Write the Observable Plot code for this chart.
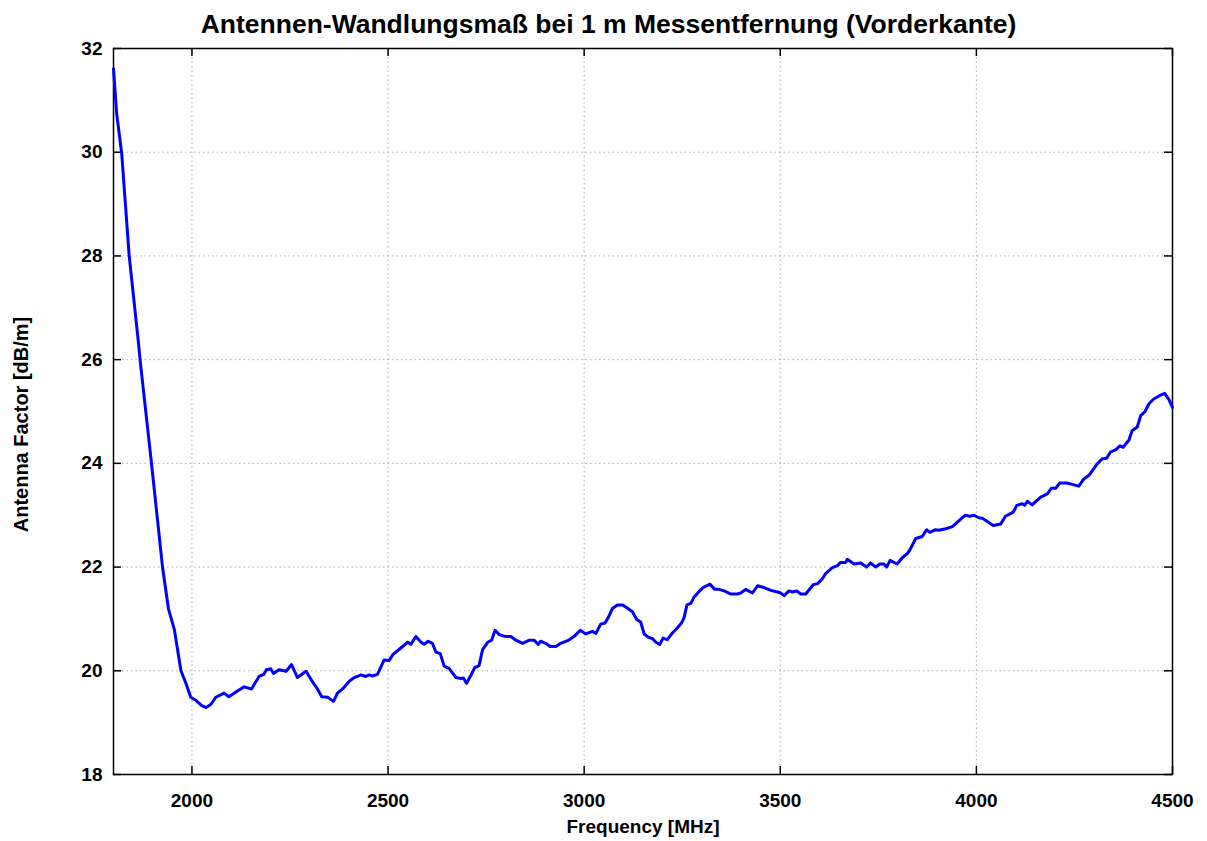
<!DOCTYPE html>
<html>
<head>
<meta charset="utf-8">
<script src="https://cdn.jsdelivr.net/npm/d3@7"></script>
<script src="https://cdn.jsdelivr.net/npm/@observablehq/plot@0.6"></script>
<style>
  body { margin: 0; background: #fff; font-family: "Liberation Sans", Arial, sans-serif; position: relative; }
  #title { position: absolute; left: 0; top: 0; height: 40px; line-height: 48px; text-align: center; font-weight: bold; font-size: 26.5px; color: #000; width: 1207px; padding-left: 10px; box-sizing: border-box; white-space: nowrap; z-index: 2; }
  #chart svg { display: block; }
</style>
</head>
<body>
<div id="title"></div>
<div id="chart"></div>
<script>
const titleText = "Antennen-Wandlungsmaß bei 1 m Messentfernung (Vorderkante)";
const xLabel = "Frequency [MHz]";
const yLabel = "Antenna Factor [dB/m]";
const xTicks = [2000, 2500, 3000, 3500, 4000, 4500];
const yTicks = [18, 20, 22, 24, 26, 28, 30, 32];

const freq = [1800,1808,1821,1840,1863,1868,1897,1925,1940,1955,1972,1985,1997,2010,2025,2036,2048,2061,2082,2094,2116,2133,2152,2171,2183,2190,2201,2208,2222,2240,2254,2269,2291,2308,2320,2331,2346,2361,2371,2384,2401,2414,2431,2443,2452,2460,2473,2490,2503,2512,2528,2550,2558,2571,2584,2592,2602,2613,2622,2633,2643,2656,2673,2686,2692,2700,2711,2721,2732,2741,2754,2764,2773,2783,2800,2813,2826,2843,2860,2872,2883,2889,2902,2913,2928,2940,2958,2974,2990,3004,3021,3030,3042,3053,3061,3072,3085,3098,3110,3123,3134,3144,3153,3163,3174,3183,3193,3201,3212,3225,3238,3248,3255,3262,3272,3280,3293,3304,3321,3333,3344,3357,3374,3391,3399,3412,3429,3442,3460,3476,3493,3501,3510,3522,3531,3542,3552,3565,3584,3595,3607,3616,3633,3646,3654,3667,3671,3688,3705,3720,3730,3743,3754,3764,3771,3780,3798,3811,3824,3832,3845,3862,3873,3881,3896,3904,3922,3939,3955,3972,3983,3994,4006,4015,4028,4043,4062,4074,4094,4103,4117,4123,4130,4142,4164,4181,4191,4202,4213,4230,4247,4261,4274,4287,4308,4321,4332,4342,4355,4366,4374,4389,4397,4410,4419,4430,4440,4452,4468,4480,4491,4500];
const af = [31.61,30.75,29.97,28.0,26.37,25.98,23.99,22.0,21.2,20.8,20.0,19.75,19.49,19.43,19.33,19.29,19.35,19.49,19.57,19.5,19.61,19.69,19.65,19.89,19.93,20.02,20.04,19.95,20.02,19.99,20.12,19.87,19.99,19.78,19.65,19.5,19.49,19.41,19.57,19.65,19.8,19.87,19.92,19.89,19.92,19.9,19.93,20.21,20.2,20.31,20.41,20.55,20.51,20.66,20.55,20.51,20.57,20.53,20.36,20.33,20.09,20.04,19.87,19.85,19.86,19.76,19.91,20.06,20.1,20.41,20.55,20.59,20.78,20.7,20.66,20.66,20.59,20.53,20.59,20.59,20.51,20.57,20.53,20.47,20.47,20.53,20.58,20.66,20.78,20.71,20.76,20.72,20.9,20.92,21.02,21.2,21.27,21.27,21.21,21.14,20.99,20.94,20.71,20.65,20.62,20.55,20.51,20.63,20.6,20.73,20.83,20.92,21.03,21.27,21.3,21.42,21.53,21.61,21.67,21.57,21.57,21.54,21.48,21.48,21.5,21.57,21.5,21.64,21.6,21.55,21.52,21.5,21.45,21.54,21.52,21.54,21.48,21.48,21.66,21.68,21.77,21.88,21.99,22.03,22.09,22.09,22.15,22.06,22.08,22.0,22.08,22.0,22.06,22.06,22.0,22.13,22.06,22.18,22.26,22.35,22.55,22.59,22.72,22.67,22.72,22.71,22.74,22.78,22.89,23.0,22.98,23.0,22.95,22.94,22.88,22.8,22.83,22.98,23.06,23.19,23.22,23.19,23.27,23.2,23.35,23.41,23.52,23.52,23.62,23.62,23.59,23.56,23.7,23.77,23.99,24.09,24.1,24.22,24.26,24.34,24.31,24.45,24.63,24.7,24.92,25.0,25.15,25.24,25.31,25.35,25.23,25.08];

document.getElementById("title").textContent = titleText;
const data = freq.map((f, i) => ({f, v: af[i]}));

const W = 1207, H = 841;
const mt = 48, mb = 67, ml = 113, mr = 35;
const innerH = H - mt - mb, innerW = W - ml - mr;
const tickLen = 8;

const chart = Plot.plot({
  width: W, height: H,
  marginTop: mt, marginBottom: mb, marginLeft: ml, marginRight: mr,
  style: { fontFamily: "'Liberation Sans', Arial, sans-serif", fontWeight: "bold", fontSize: "19px", color: "#000", background: "#fff" },
  x: { domain: [1800, 4500], ticks: xTicks, tickFormat: d3.format("d") },
  y: { domain: [18, 32], ticks: yTicks, tickFormat: d3.format("d") },
  marks: [
    Plot.gridX(xTicks.filter(t => t > 1800 && t < 4500), { stroke: "#999", strokeOpacity: 0.8, strokeDasharray: "1.5,3", strokeWidth: 1 }),
    Plot.gridY(yTicks.filter(t => t > 18 && t < 32), { stroke: "#999", strokeOpacity: 0.8, strokeDasharray: "1.5,3", strokeWidth: 1 }),
    Plot.ruleX(xTicks, { insetTop: innerH - tickLen, stroke: "#000", strokeWidth: 1.5 }),
    Plot.ruleX(xTicks, { insetBottom: innerH - tickLen, stroke: "#000", strokeWidth: 1.5 }),
    Plot.ruleY(yTicks, { insetRight: innerW - tickLen, stroke: "#000", strokeWidth: 1.5 }),
    Plot.ruleY(yTicks, { insetLeft: innerW - tickLen, stroke: "#000", strokeWidth: 1.5 }),
    Plot.axisX(xTicks, { tickSize: 0, tickPadding: 19, tickFormat: d3.format("d"), fontSize: 19, label: xLabel, labelAnchor: "center", labelArrow: "none", labelOffset: 58 }),
    Plot.axisY(yTicks, { tickSize: 0, tickPadding: 11, tickFormat: d3.format("d"), fontSize: 19, label: null }),
    Plot.text([yLabel], { frameAnchor: "left", rotate: -90, dx: -92, dy: 13, fontSize: 20, fontWeight: "bold", fill: "#000", textAnchor: "middle", lineAnchor: "middle" }),
    Plot.frame({ stroke: "#000", strokeWidth: 1.5 }),
    Plot.lineY(data, { x: "f", y: "v", stroke: "#0000ff", strokeWidth: 3, strokeLinejoin: "round" })
  ]
});
document.getElementById("chart").appendChild(chart);
</script>
</body>
</html>
